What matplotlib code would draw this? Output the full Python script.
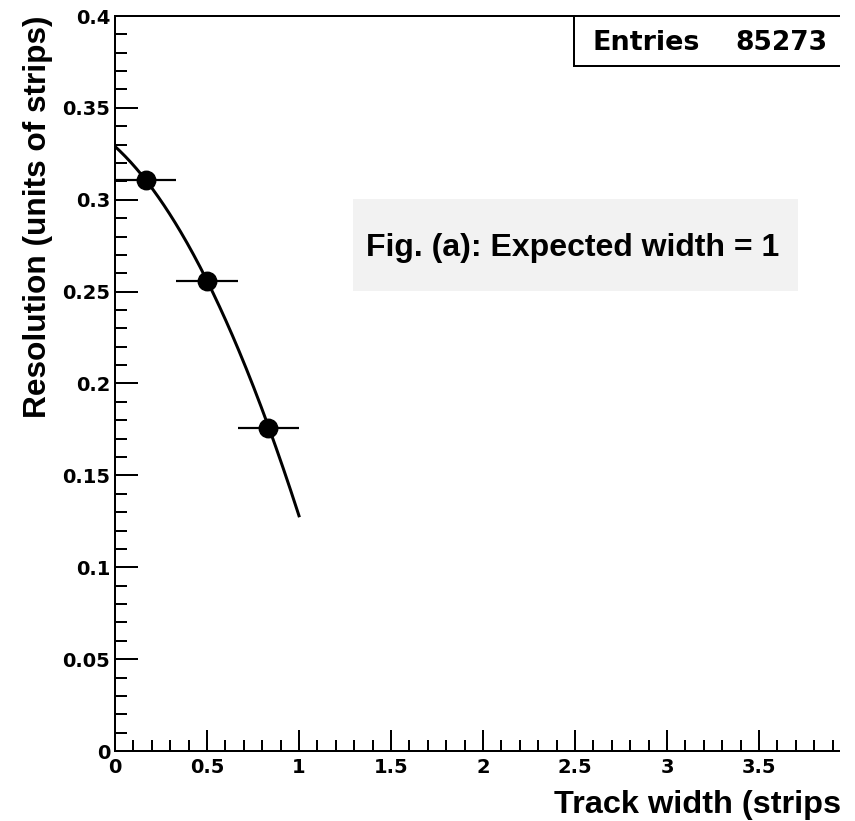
import numpy as np
import matplotlib
matplotlib.use('Agg')
import matplotlib.pyplot as plt
from matplotlib.patches import Rectangle
from matplotlib.ticker import MultipleLocator

# ---- data ----
bin_centers = [1/6, 0.5, 5/6]
bin_halfwidth = [1/6, 1/6, 1/6]
resolution = [0.311, 0.256, 0.176]
fit_coeffs = [0.329, -0.091, -0.110]   # a + b*x + c*x^2
fit_range = [0.0, 1.0]
entries_label = "Entries"
entries_value = "85273"
note_text = "Fig. (a): Expected width = 1"
x_label = "Track width (strips)"
y_label = "Resolution (units of strips)"

W, H = 855, 821
FONT = 'Liberation Sans'
PX = 72 / 100.0  # points per pixel

fig = plt.figure(figsize=(W / 100, H / 100), dpi=100)
ax = fig.add_axes([115 / W, 70 / H, (839 - 115) / W, (751 - 16) / H])
ax.set_xlim(0, 3.935)
ax.set_ylim(0, 0.4)

# fit curve
xf = np.linspace(fit_range[0], fit_range[1], 200)
yf = fit_coeffs[0] + fit_coeffs[1] * xf + fit_coeffs[2] * xf ** 2
ax.plot(xf, yf, color='black', lw=3 * PX, zorder=2)

# data points
ax.errorbar(bin_centers, resolution, xerr=bin_halfwidth, fmt='o', color='black',
            ms=18.5 * PX, elinewidth=2.2 * PX, capsize=0, zorder=3)

# axes styling
for s in ['left', 'bottom', 'top']:
    ax.spines[s].set_linewidth(2 * PX)
ax.spines['right'].set_visible(False)
ax.xaxis.set_major_locator(MultipleLocator(0.5))
ax.xaxis.set_minor_locator(MultipleLocator(0.1))
ax.yaxis.set_major_locator(MultipleLocator(0.05))
ax.yaxis.set_minor_locator(MultipleLocator(0.01))
ax.tick_params(axis='y', which='major', direction='in', length=23 * PX, width=2 * PX, pad=5 * PX)
ax.tick_params(axis='y', which='minor', direction='in', length=12 * PX, width=2 * PX)
ax.tick_params(axis='x', which='major', direction='in', length=21 * PX, width=2 * PX, pad=7 * PX)
ax.tick_params(axis='x', which='minor', direction='in', length=11 * PX, width=2 * PX)
ax.tick_params(top=False, right=False)

def fmt(v, pos):
    s = ('%.2f' % v).rstrip('0').rstrip('.')
    return s
ax.xaxis.set_major_formatter(plt.FuncFormatter(fmt))
ax.yaxis.set_major_formatter(plt.FuncFormatter(fmt))
for lab in ax.get_xticklabels() + ax.get_yticklabels():
    lab.set_fontfamily('DejaVu Sans')
    lab.set_fontweight('bold')
    lab.set_fontsize(19.5 * PX)

# axis titles
fig.text(38 / W, 1 - 16 / H, y_label, rotation=90, ha='center', va='top',
         fontfamily=FONT, fontweight='bold', fontsize=31.7 * PX)
fig.text(554 / W, 1 - 813 / H, x_label, ha='left', va='baseline',
         fontfamily=FONT, fontweight='bold', fontsize=32.5 * PX)

# stats box (its right part is cut off by the image edge)
fig.add_artist(Rectangle((574 / W, 1 - 66 / H), (845 - 574) / W, 50 / H,
                         transform=fig.transFigure, fc='white', ec='black', lw=2 * PX, zorder=5))
fig.text(592 / W, 1 - 49.5 / H, entries_label, ha='left', va='baseline',
         fontfamily='DejaVu Sans', fontweight='bold', fontsize=27 * PX, zorder=6)
fig.text(827 / W, 1 - 49.5 / H, entries_value, ha='right', va='baseline',
         fontfamily='DejaVu Sans', fontweight='bold', fontsize=26.5 * PX, zorder=6)

# note box
fig.add_artist(Rectangle((353 / W, 1 - 291 / H), (798 - 353) / W, (291 - 199) / H,
                         transform=fig.transFigure, fc='#f2f2f2', ec='none', zorder=4))
fig.text(572.5 / W, 1 - 256 / H, note_text, ha='center', va='baseline',
         fontfamily=FONT, fontweight='bold', fontsize=32 * PX, zorder=6)

# image cropped at right
fig.add_artist(Rectangle((839.5 / W, 0), (W - 839.5) / W, 1, transform=fig.transFigure,
                         fc='white', ec='none', zorder=10))

fig.savefig('out.png', dpi=100)
